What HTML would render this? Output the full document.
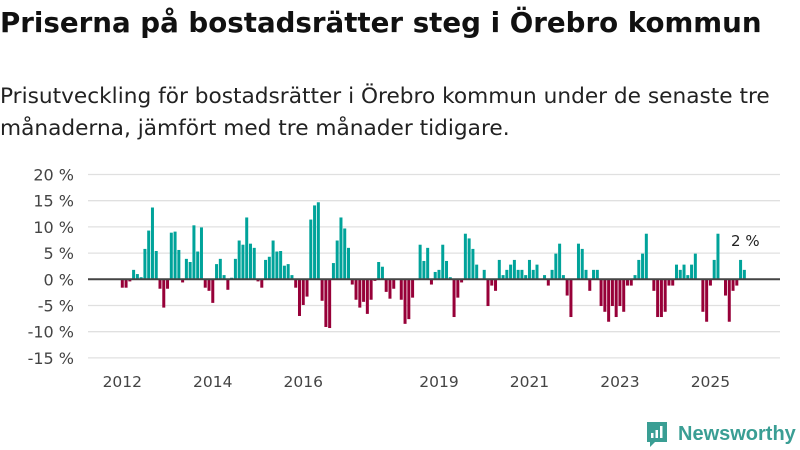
<!DOCTYPE html>
<html><head><meta charset="utf-8">
<style>
body{margin:0;width:800px;height:450px;background:#fff;font-family:"DejaVu Sans","Liberation Sans",sans-serif;overflow:hidden;position:relative}
.fit{position:absolute;left:0;margin:0;white-space:nowrap}
#t{top:6px;font-size:27px;font-weight:bold;color:#111}
#s1{top:84px;font-size:20.5px;color:#222}
#s2{top:116px;font-size:20.5px;color:#222}
svg{position:absolute;left:0;top:0}
.logo{position:absolute;left:645px;top:420px;display:flex;align-items:center}
.logo span{font-family:"Liberation Sans",sans-serif;font-size:20px;font-weight:bold;color:#3a9e94;margin-left:9px}
</style></head><body>
<div class="fit" id="t">Priserna på bostadsrätter steg i Örebro kommun</div>
<div class="fit" id="s1">Prisutveckling för bostadsrätter i Örebro kommun under de senaste tre</div>
<div class="fit" id="s2">månaderna, jämfört med tre månader tidigare.</div>
<svg id="chart" width="800" height="450"></svg>
<div class="logo">
<svg width="24" height="28" viewBox="0 0 24 28" style="position:static"><path d="M2 2h20v20H10l-5 5v-5H2z" fill="#3a9e94"/><rect x="6" y="13" width="2.5" height="5" fill="#fff"/><rect x="10.5" y="10" width="2.5" height="8" fill="#fff"/><rect x="15" y="6" width="2.5" height="12" fill="#fff"/></svg>
<span>Newsworthy</span></div>
<script>
const values=[-1.6,-1.6,-0.4,1.8,1.0,0.4,5.8,9.3,13.7,5.4,-1.8,-5.4,-1.8,8.9,9.1,5.6,-0.6,3.9,3.3,10.3,5.3,9.9,-1.6,-2.2,-4.5,2.9,3.9,0.8,-2.0,0.3,3.9,7.4,6.6,11.8,6.8,6.0,-0.4,-1.6,3.7,4.3,7.4,5.3,5.4,2.6,2.9,0.8,-1.6,-7.0,-4.9,-3.3,11.4,14.1,14.7,-4.1,-9.1,-9.3,3.1,7.4,11.8,9.7,6.0,-1.0,-3.9,-5.4,-4.3,-6.6,-3.9,-0.3,3.3,2.4,-2.4,-3.7,-1.8,0,-3.9,-8.5,-7.6,-3.5,0,6.6,3.5,6.0,-1.0,1.4,1.8,6.6,3.5,0.4,-7.2,-3.5,-0.6,8.7,7.8,5.8,2.8,0,1.8,-5.1,-1.2,-2.2,3.7,0.8,1.8,2.8,3.7,1.8,1.8,0.8,3.7,1.8,2.8,0,0.8,-1.2,1.8,4.9,6.8,0.8,-3.1,-7.2,0,6.8,5.8,1.8,-2.2,1.8,1.8,-5.1,-6.2,-8.1,-5.1,-7.2,-5.1,-6.2,-1.2,-1.2,0.8,3.7,4.9,8.7,0,-2.2,-7.2,-7.2,-6.2,-1.2,-1.2,2.8,1.8,2.8,0.8,2.8,4.9,0,-6.2,-8.1,-1.2,3.7,8.7,0,-3.1,-8.1,-2.2,-1.2,3.7,1.8];
const startYear=2012;
const yTicks=[20,15,10,5,0,-5,-10,-15];
const yTickLabels=["20 %","15 %","10 %","5 %","0 %","-5 %","-10 %","-15 %"];
const xTickYears=[2012,2014,2016,2019,2021,2023,2025];
const lastLabel="2 %";
// fit header text widths
[['t',762],['s1',770]].forEach(([id,w])=>{const e=document.getElementById(id);const cur=e.getBoundingClientRect().width;const fs=parseFloat(getComputedStyle(e).fontSize);const n=fs*w/cur;e.style.fontSize=n+'px';if(id==='s1')document.getElementById('s2').style.fontSize=n+'px';});
const NS="http://www.w3.org/2000/svg";
const svg=document.getElementById('chart');
const x0=122.3,mw=3.77;
const xScale=i=>x0+i*mw;
const yScale=v=>279.3-v*5.24;
function mk(t,a){const e=document.createElementNS(NS,t);for(const k in a)e.setAttribute(k,a[k]);svg.appendChild(e);return e;}
yTicks.forEach((v,k)=>{
 const l=mk('line',{x1:88,x2:780,y1:yScale(v),y2:yScale(v),stroke:'#e0e0e0','stroke-width':1.3});
 
 
 const t=mk('text',{x:74,y:yScale(v)+6,'text-anchor':'end','font-size':16,fill:'#444','font-family':'DejaVu Sans, sans-serif'});
 t.textContent=yTickLabels[k];
 
 
});
values.forEach((v,i)=>{
 if(v===0)return;
 const y=Math.min(yScale(v),yScale(0)),h=Math.abs(yScale(v)-yScale(0));
 const r=mk('rect',{x:xScale(i)-1.5,y:y,width:3,height:h,fill:v>0?'#00a39a':'#970038'});
 
 
});
const z=mk('line',{x1:88,x2:780,y1:yScale(0),y2:yScale(0),stroke:'#444','stroke-width':2});


xTickYears.forEach(yr=>{
 const i=(yr-startYear)*12;
 const t=mk('text',{x:xScale(i),y:387,'text-anchor':'middle','font-size':15.5,fill:'#444','font-family':'DejaVu Sans, sans-serif'});
 t.textContent=yr;
 
 
});
const li=values.length-1;
const lt=mk('text',{x:xScale(li)+1,y:yScale(values[li])-24,'text-anchor':'middle','font-size':15,fill:'#222','font-family':'DejaVu Sans, sans-serif'});
lt.textContent=lastLabel;


</script>
</body></html>
